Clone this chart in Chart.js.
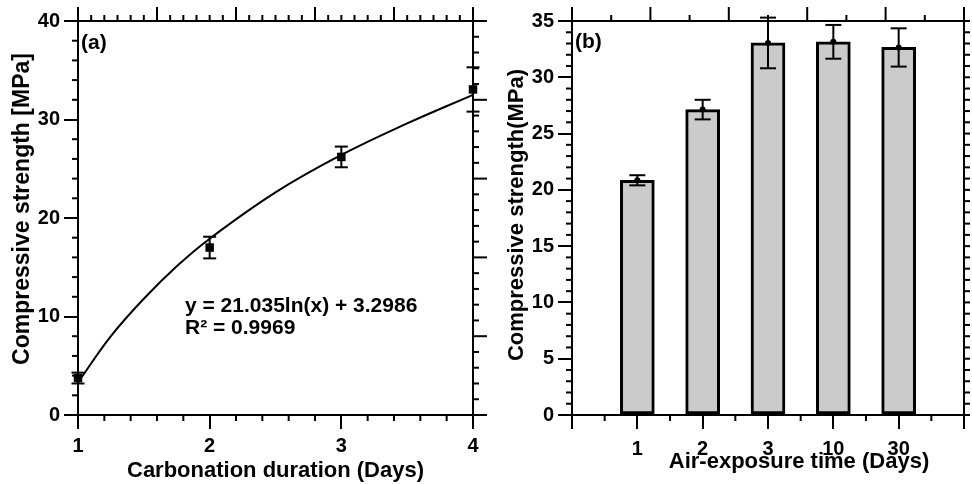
<!DOCTYPE html>
<html><head><meta charset="utf-8">
<script src="https://cdn.jsdelivr.net/npm/chart.js@4/dist/chart.umd.min.js"></script>
<style>
html,body{margin:0;padding:0;background:#fff;}
#wrap{position:relative;width:972px;height:484px;overflow:hidden;background:#fff;}
canvas{position:absolute;top:0;}
</style></head><body>
<div id="wrap"><canvas id="ca" width="490" height="484" style="left:0"></canvas><canvas id="cb" width="482" height="484" style="left:490px"></canvas></div>
<script>
// ---- Panel (a) data ----
const carbDays = [1, 2, 3, 4];
const carbStrength = [3.75, 17.0, 26.2, 33.05];
const carbError = [0.55, 1.1, 1.05, 2.25];
// fitted curve
const fitDays = [1, 1.25, 1.5, 1.75, 2, 2.5, 3, 3.5, 4];
const fitStrength = [3.3, 8.0, 11.8, 15.1, 17.9, 22.6, 26.4, 29.6, 32.5];
const yTicksA = [0, 10, 20, 30, 40];
const xTicksA = [1, 2, 3, 4];
// ---- Panel (b) data ----
const exposureDays = ['1', '2', '3', '10', '30'];
const exposureStrength = [20.85, 27.13, 33.05, 33.15, 32.65];
const exposureError = [0.45, 0.87, 2.25, 1.5, 1.7];
const yTicksB = [0, 5, 10, 15, 20, 25, 30, 35];

const FONT = '"Liberation Sans", Arial, Helvetica, sans-serif';
const TICKFONT = {family: FONT, size: 20, weight: 'bold'};

function line(ctx, x1, y1, x2, y2) {
  ctx.beginPath(); ctx.moveTo(x1, y1); ctx.lineTo(x2, y2); ctx.stroke();
}
function frameTicks(ctx, a, topMinor, rightMinor, rightAll) {
  const {left: L, right: R, top: T, bottom: B} = a;
  ctx.save();
  ctx.strokeStyle = '#000'; ctx.lineWidth = 2; ctx.lineCap = 'butt';
  line(ctx, L - 1, T, R + 1, T);
  line(ctx, R, T - 1, R, B + 1);
  const w = (R - L) / 5;
  for (let i = 0; i <= 5; i++) {
    const x = L + i * w;
    line(ctx, x, T, x, T - 14);
    if (i < 5) for (let j = 1; j < topMinor; j++) {
      const xm = x + j * w / topMinor;
      line(ctx, xm, T, xm, T - 6);
    }
  }
  if (rightAll) {
    for (let i = 0; i <= rightAll; i++) {
      const y = B - i * (B - T) / rightAll;
      line(ctx, R, y, R + 6, y);
    }
  } else {
    const h = (B - T) / 5;
    for (let i = 0; i <= 5; i++) {
      const y = B - i * h;
      line(ctx, R, y, R + 14, y);
      if (i < 5) for (let j = 1; j < rightMinor; j++) {
        const ym = y - j * h / rightMinor;
        line(ctx, R, ym, R + 6, ym);
      }
    }
  }
  ctx.restore();
}

const panelA = {
  id: 'panelA',
  afterDraw(chart) {
    const ctx = chart.ctx, a = chart.chartArea;
    const xs = chart.scales.x, ys = chart.scales.y;
    ctx.save();
    ctx.strokeStyle = '#000'; ctx.lineWidth = 2;
    for (let v = 0; v <= 40; v += 2) {
      if (v % 10 === 0) continue;
      const y = ys.getPixelForValue(v);
      line(ctx, a.left, y, a.left - 6, y);
    }
    for (let k = 5; k <= 20; k++) {
      if (k % 5 === 0) continue;
      const x = xs.getPixelForValue(k / 5);
      line(ctx, x, a.bottom, x, a.bottom + 6);
    }
    ctx.restore();
    frameTicks(ctx, a, 6, 5, 0);
    ctx.save();
    ctx.strokeStyle = '#000'; ctx.lineWidth = 2;
    carbDays.forEach((d, i) => {
      const x = xs.getPixelForValue(d);
      const y1 = ys.getPixelForValue(carbStrength[i] - carbError[i]);
      const y2 = ys.getPixelForValue(carbStrength[i] + carbError[i]);
      line(ctx, x, y1, x, y2);
      line(ctx, x - 6.5, y1, x + 6.5, y1);
      line(ctx, x - 6.5, y2, x + 6.5, y2);
    });
    ctx.fillStyle = '#000';
    ctx.font = 'bold 21px ' + FONT;
    ctx.textAlign = 'left'; ctx.textBaseline = 'alphabetic';
    ctx.fillText('(a)', 81, 49);
    ctx.font = 'bold 21px ' + FONT;
    ctx.fillText('y = 21.035ln(x) + 3.2986', 185, 312);
    ctx.fillText('R\u00B2 = 0.9969', 185, 334);
    ctx.font = 'bold 22px ' + FONT;
    ctx.textAlign = 'center';
    ctx.fillText('Carbonation duration (Days)', (a.left + a.right) / 2, 477);
    ctx.save();
    ctx.font = 'bold 23px ' + FONT;
    ctx.translate(29, 209);
    ctx.rotate(-Math.PI / 2);
    ctx.fillText('Compressive strength [MPa]', 0, 0);
    ctx.restore();
    ctx.restore();
  }
};

const panelB = {
  id: 'panelB',
  afterDraw(chart) {
    const ctx = chart.ctx, a = chart.chartArea;
    const xs = chart.scales.x, ys = chart.scales.y;
    ctx.save();
    ctx.strokeStyle = '#000'; ctx.lineWidth = 2;
    for (let v = 0; v <= 35; v += 1) {
      if (v % 5 === 0) continue;
      const y = ys.getPixelForValue(v);
      line(ctx, a.left, y, a.left - 6, y);
    }
    const n = exposureDays.length + 2;
    for (let i = 0; i < n - 1; i++) {
      const x = (xs.getPixelForValue(i) + xs.getPixelForValue(i + 1)) / 2;
      line(ctx, x, a.bottom, x, a.bottom + 6);
    }
    ctx.restore();
    frameTicks(ctx, a, 2, 0, 35);
    ctx.save();
    ctx.strokeStyle = '#000'; ctx.fillStyle = '#000'; ctx.lineWidth = 2;
    exposureDays.forEach((d, i) => {
      const x = xs.getPixelForValue(i + 1);
      const v = exposureStrength[i], e = exposureError[i];
      const y1 = ys.getPixelForValue(v - e), y2 = ys.getPixelForValue(v + e);
      line(ctx, x, y1, x, y2);
      line(ctx, x - 8, y1, x + 8, y1);
      line(ctx, x - 8, y2, x + 8, y2);
      ctx.beginPath(); ctx.arc(x, ys.getPixelForValue(v), 3, 0, Math.PI * 2); ctx.fill();
    });
    ctx.font = 'bold 21px ' + FONT;
    ctx.textAlign = 'left'; ctx.textBaseline = 'alphabetic';
    ctx.fillText('(b)', 85, 48);
    ctx.font = 'bold 22px ' + FONT;
    ctx.textAlign = 'center';
    ctx.fillText('Air-exposure time (Days)', 309, 468);
    ctx.save();
    ctx.translate(33, 215);
    ctx.rotate(-Math.PI / 2);
    ctx.fillText('Compressive strength(MPa)', 0, 0);
    ctx.restore();
    ctx.restore();
  }
};

const gridOpts = {drawOnChartArea: false, drawTicks: true, tickLength: 14, tickWidth: 2, tickColor: '#000', color: '#000', lineWidth: 2};
const borderOpts = {display: true, color: '#000', width: 2};

new Chart(document.getElementById('ca'), {
  type: 'scatter',
  data: {
    datasets: [
      {data: fitDays.map((d, i) => ({x: d, y: fitStrength[i]})), showLine: true, borderColor: '#000', borderWidth: 2,
       pointRadius: 0, tension: 0.4, clip: false, order: 2},
      {data: carbDays.map((d, i) => ({x: d, y: carbStrength[i]})), showLine: false, pointStyle: 'rect', pointRadius: 6,
       backgroundColor: '#000', borderColor: '#000', borderWidth: 0, clip: false, order: 1}
    ]
  },
  options: {
    responsive: false, animation: false, devicePixelRatio: 1,
    layout: {padding: {left: 0, right: 17, top: 21, bottom: 0}},
    plugins: {legend: {display: false}, tooltip: {enabled: false}},
    scales: {
      x: {type: 'linear', min: 1, max: 4, afterBuildTicks: s => { s.ticks = xTicksA.map(v => ({value: v})); },
          ticks: {color: '#000', font: TICKFONT, padding: 5, maxRotation: 0},
          grid: gridOpts, border: borderOpts, afterFit: s => { s.height = 69; }},
      y: {type: 'linear', min: 0, max: 40, afterBuildTicks: s => { s.ticks = yTicksA.map(v => ({value: v})); },
          ticks: {color: '#000', font: TICKFONT, padding: 4},
          grid: gridOpts, border: borderOpts, afterFit: s => { s.width = 78; }}
    }
  },
  plugins: [panelA]
});

new Chart(document.getElementById('cb'), {
  type: 'bar',
  data: {
    labels: ['', ...exposureDays, ''],
    datasets: [{data: [null, ...exposureStrength, null], backgroundColor: '#cbcbcb', borderColor: '#000',
      borderWidth: 3, borderSkipped: false, barThickness: 34}]
  },
  options: {
    responsive: false, animation: false, devicePixelRatio: 1,
    layout: {padding: {left: 0, right: 6, top: 21, bottom: 0}},
    plugins: {legend: {display: false}, tooltip: {enabled: false}},
    scales: {
      x: {type: 'category', offset: false,
          ticks: {color: '#000', font: TICKFONT, padding: 8, maxRotation: 0, autoSkip: false},
          grid: Object.assign({offset: false}, gridOpts), border: borderOpts, afterFit: s => { s.height = 69; }},
      y: {type: 'linear', min: 0, max: 35, afterBuildTicks: s => { s.ticks = yTicksB.map(v => ({value: v})); },
          ticks: {color: '#000', font: TICKFONT, padding: 4},
          grid: gridOpts, border: borderOpts, afterFit: s => { s.width = 82; }}
    }
  },
  plugins: [panelB]
});
</script>
</body></html>
